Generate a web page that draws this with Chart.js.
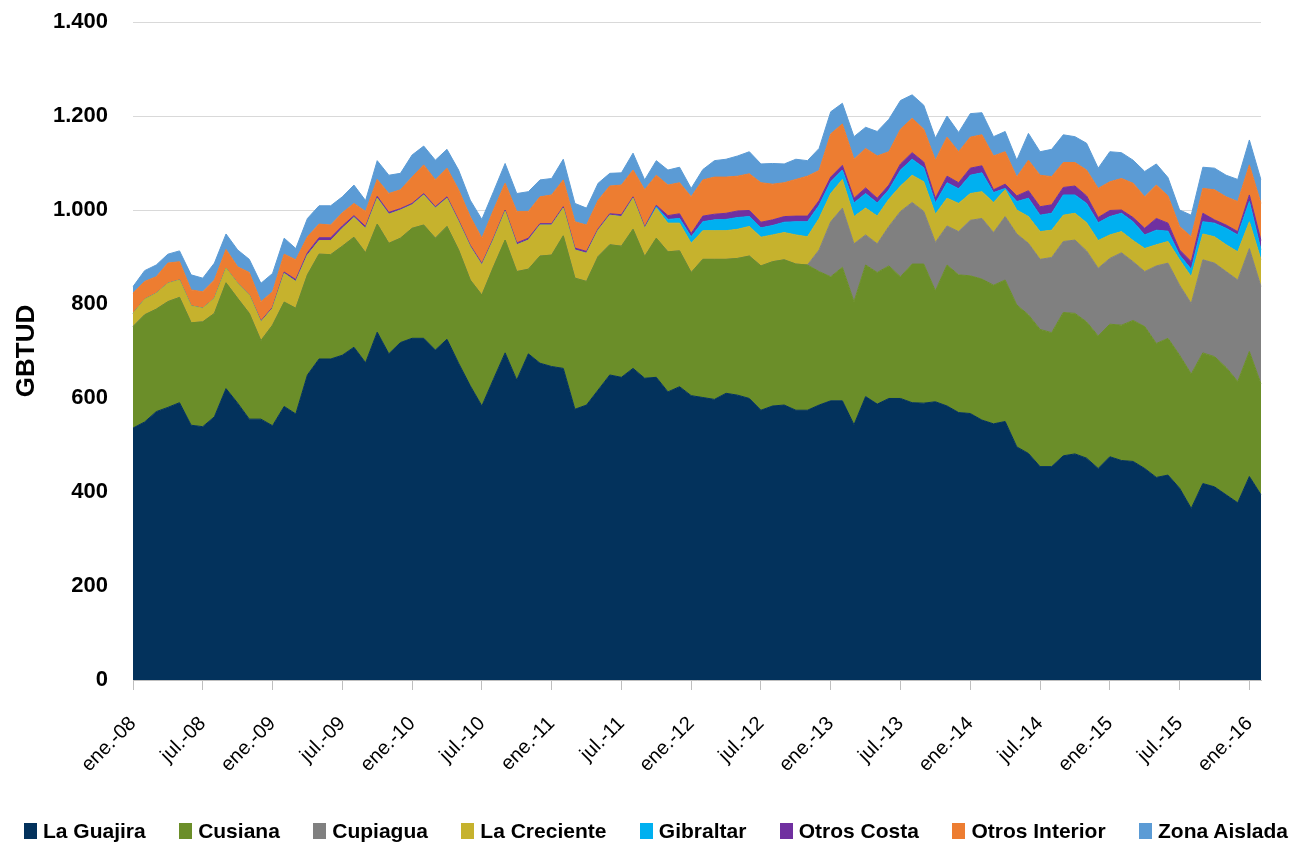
<!DOCTYPE html>
<html>
<head>
<meta charset="utf-8">
<script src="https://cdn.jsdelivr.net/npm/chart.js@4.4.1/dist/chart.umd.min.js"></script>
<style>
  html, body { margin: 0; padding: 0; background: #fff; }
  #wrap { position: relative; width: 1291px; height: 843px; }
  #legend {
    position: absolute; left: 24px; width: 1264px; top: 816px;
    display: flex; justify-content: space-between;
    font: bold 21px 'Liberation Sans', Arial, sans-serif;
    line-height: 30px; color: #000;
  }
  .item { display: flex; align-items: center; white-space: nowrap; }
  .sw { width: 13px; height: 16px; margin-right: 6px; }
</style>
</head>
<body>
<div id="wrap">
  <canvas id="chart" width="1291" height="843"></canvas>
  <div id="legend"></div>
</div>
<script>
// Monthly gas supply by field, ene-08 .. feb-16 (GBTUD)
const months = ['ene.', 'feb.', 'mar.', 'abr.', 'may.', 'jun.', 'jul.', 'ago.', 'sept.', 'oct.', 'nov.', 'dic.'];
const years = ['08', '09', '10', '11', '12', '13', '14', '15', '16'];
const yTicks = [0, 200, 400, 600, 800, 1000, 1200, 1400];

const laGuajira = [
  536, 549, 571, 580, 590, 542, 539, 560, 620, 589,
  555, 555, 541, 582, 566, 649, 683, 683, 691, 708,
  675, 740, 694, 718, 727, 727, 702, 725, 674, 626,
  583, 640, 696, 638, 694, 674, 667, 663, 576, 585,
  617, 649, 644, 663, 642, 644, 613, 624, 605, 601,
  597, 610, 606, 599, 574, 583, 585, 574, 574, 585,
  594, 594, 543, 603, 587, 599, 599, 590, 589, 592,
  583, 569, 567, 553, 545, 550, 496, 482, 454, 454,
  477, 481, 472, 450, 475, 467, 465, 450, 431, 436,
  408, 365, 418, 411, 394, 377, 433, 394
];
const cusiana = [
  216, 228, 218, 225, 224, 218, 223, 220, 225, 223,
  225, 167, 214, 222, 225, 213, 223, 222, 232, 234,
  234, 230, 235, 222, 234, 241, 238, 240, 241, 225,
  236, 239, 240, 231, 180, 228, 237, 282, 279, 263,
  284, 277, 279, 296, 259, 296, 298, 289, 262, 294,
  298, 285, 291, 303, 307, 307, 309, 311, 309, 284,
  264, 284, 262, 280, 280, 282, 259, 295, 296, 236,
  300, 293, 293, 300, 295, 301, 302, 295, 292, 285,
  305, 299, 290, 282, 282, 288, 300, 302, 285, 291,
  283, 286, 278, 277, 271, 258, 266, 236
];
const cupiagua = [
  0, 0, 0, 0, 0, 0, 0, 0, 0, 0,
  0, 0, 0, 0, 0, 0, 0, 0, 0, 0,
  0, 0, 0, 0, 0, 0, 0, 0, 0, 0,
  0, 0, 0, 0, 0, 0, 0, 0, 0, 0,
  0, 0, 0, 0, 0, 0, 0, 0, 0, 0,
  0, 0, 0, 0, 0, 0, 0, 0, 0, 46,
  117, 126, 123, 64, 61, 84, 139, 131, 112, 103,
  83, 92, 118, 129, 112, 135, 151, 152, 149, 160,
  151, 156, 151, 144, 140, 154, 125, 117, 165, 160,
  149, 150, 198, 199, 204, 216, 219, 207
];
const laCreciente = [
  28, 33, 34, 39, 37, 36, 29, 32, 31, 32,
  39, 40, 36, 61, 57, 42, 29, 30, 38, 42,
  52, 55, 62, 60, 50, 64, 64, 60, 60, 71,
  64, 58, 61, 57, 62, 66, 64, 59, 60, 60,
  56, 63, 63, 66, 60, 64, 61, 59, 62, 61,
  61, 61, 62, 63, 61, 57, 58, 62, 60, 67,
  60, 61, 58, 57, 59, 58, 54, 58, 63, 60,
  59, 60, 57, 57, 64, 57, 51, 57, 59, 58,
  56, 57, 60, 59, 50, 45, 45, 49, 45, 46,
  54, 57, 55, 56, 57, 60, 57, 57
];
const gibraltar = [
  0, 0, 0, 0, 0, 0, 0, 0, 0, 0,
  0, 0, 0, 0, 0, 0, 0, 0, 0, 0,
  0, 0, 0, 0, 0, 0, 0, 0, 0, 0,
  0, 0, 0, 0, 0, 0, 0, 0, 0, 0,
  0, 0, 0, 0, 0, 3, 8, 10, 14, 19,
  23, 24, 25, 21, 20, 20, 22, 28, 32, 28,
  25, 20, 29, 31, 28, 20, 34, 34, 30, 24,
  33, 31, 39, 40, 21, 3, 18, 39, 35, 36,
  43, 39, 41, 38, 39, 39, 40, 29, 31, 22,
  10, 16, 26, 29, 35, 36, 43, 21
];
const otrosCosta = [
  0, 0, 0, 0, 0, 0, 0, 0, 0, 0,
  0, 2, 2, 3, 4, 5, 6, 6, 5, 4,
  4, 4, 4, 3, 3, 3, 3, 3, 3, 3,
  3, 3, 3, 4, 4, 3, 3, 3, 4, 4,
  3, 3, 4, 3, 3, 3, 8, 10, 7, 12,
  12, 13, 14, 13, 12, 12, 12, 12, 12, 10,
  10, 10, 10, 12, 10, 10, 13, 14, 12, 10,
  14, 13, 15, 15, 6, 9, 12, 16, 18, 18,
  16, 19, 16, 11, 13, 7, 9, 14, 25, 17,
  11, 16, 18, 7, 7, 7, 14, 20
];
const otrosInterior = [
  43, 38, 35, 43, 39, 34, 35, 39, 40, 35,
  48, 41, 33, 38, 42, 34, 29, 27, 28, 26,
  32, 36, 40, 40, 56, 61, 57, 61, 65, 61,
  54, 60, 57, 67, 57, 57, 61, 57, 56, 56,
  61, 59, 63, 57, 79, 64, 65, 66, 78, 77,
  79, 77, 74, 78, 84, 76, 72, 78, 85, 64,
  92, 88, 83, 84, 90, 71, 74, 73, 70, 81,
  83, 66, 66, 66, 72, 69, 40, 65, 67, 60,
  53, 50, 55, 62, 61, 67, 73, 67, 71, 58,
  50, 53, 53, 64, 60, 64, 64, 79
];
const zonaAislada = [
  14, 23, 25, 19, 23, 32, 29, 36, 33, 36,
  28, 39, 39, 34, 24, 39, 39, 41, 34, 39,
  23, 40, 39, 35, 47, 40, 42, 40, 42, 35,
  40, 39, 42, 38, 42, 36, 35, 44, 39, 36,
  36, 27, 26, 36, 21, 31, 32, 33, 18, 22,
  35, 38, 43, 47, 40, 44, 40, 43, 33, 47,
  47, 44, 48, 45, 52, 69, 61, 50, 51, 47,
  45, 41, 50, 47, 41, 43, 36, 57, 50, 58,
  59, 55, 57, 43, 64, 55, 49, 54, 45, 39,
  35, 46, 45, 46, 46, 47, 53, 50
];

const seriesNames = ['La Guajira', 'Cusiana', 'Cupiagua', 'La Creciente', 'Gibraltar', 'Otros Costa', 'Otros Interior', 'Zona Aislada'];
const seriesData = [laGuajira, cusiana, cupiagua, laCreciente, gibraltar, otrosCosta, otrosInterior, zonaAislada];
const seriesColors = ['#03325c', '#6b8e29', '#808080', '#c6b22d', '#00b0f0', '#7030a0', '#ed7d31', '#5b9bd5'];

const labels = [];
years.forEach(y => months.forEach(m => labels.push(m + '-' + y)));
labels.length = laGuajira.length;

const sans = "'Liberation Sans', Arial, sans-serif";

const datasets = seriesNames.map((name, i) => ({
  label: name,
  data: seriesData[i],
  backgroundColor: seriesColors[i],
  borderColor: seriesColors[i],
  borderWidth: 1,
  pointRadius: 0,
  tension: 0,
  fill: i === 0 ? 'origin' : '-1'
}));

const fmt = v => String(v).replace(/\B(?=(\d{3})+(?!\d))/g, '.');

new Chart(document.getElementById('chart'), {
  type: 'line',
  data: { labels: labels, datasets: datasets },
  options: {
    responsive: false,
    animation: false,
    devicePixelRatio: 1,
    layout: { padding: { left: 0, right: 30, top: 22, bottom: 63 } },
    plugins: {
      legend: { display: false },
      tooltip: { enabled: false }
    },
    scales: {
      x: {
        offset: false,
        grid: {
          drawOnChartArea: false,
          tickLength: 10,
          color: ctx => ctx.index % 6 === 0 ? '#bfbfbf' : 'rgba(0,0,0,0)'
        },
        border: { color: '#bfbfbf' },
        ticks: {
          autoSkip: false,
          minRotation: 45,
          maxRotation: 45,
          padding: 22,
          color: '#000',
          font: { family: sans, size: 20 },
          callback: (v, i) => i % 6 === 0 ? labels[i] : ''
        },
        afterFit: s => {
          s.height = 100;
          s.paddingLeft = 0;
          s.paddingRight = 0;
        }
      },
      y: {
        stacked: true,
        min: yTicks[0],
        max: yTicks[yTicks.length - 1],
        afterBuildTicks: s => { s.ticks = yTicks.map(v => ({ value: v })); },
        grid: { color: '#d9d9d9', drawTicks: false },
        border: { display: false },
        ticks: {
          padding: 25,
          color: '#000',
          font: { family: sans, size: 22, weight: 'bold' },
          callback: v => fmt(v)
        },
        title: {
          display: true,
          text: 'GBTUD',
          color: '#000',
          font: { family: sans, size: 26, weight: 'bold' },
          padding: { top: 11, bottom: 0 }
        },
        afterFit: s => {
          s.width = 133;
          s.paddingTop = 0;
          s.paddingBottom = 0;
        }
      }
    }
  }
});

// legend
const legend = document.getElementById('legend');
seriesNames.forEach((name, i) => {
  const item = document.createElement('div');
  item.className = 'item';
  const sw = document.createElement('span');
  sw.className = 'sw';
  sw.style.background = seriesColors[i];
  item.appendChild(sw);
  item.appendChild(document.createTextNode(name));
  legend.appendChild(item);
});
</script>
</body>
</html>
